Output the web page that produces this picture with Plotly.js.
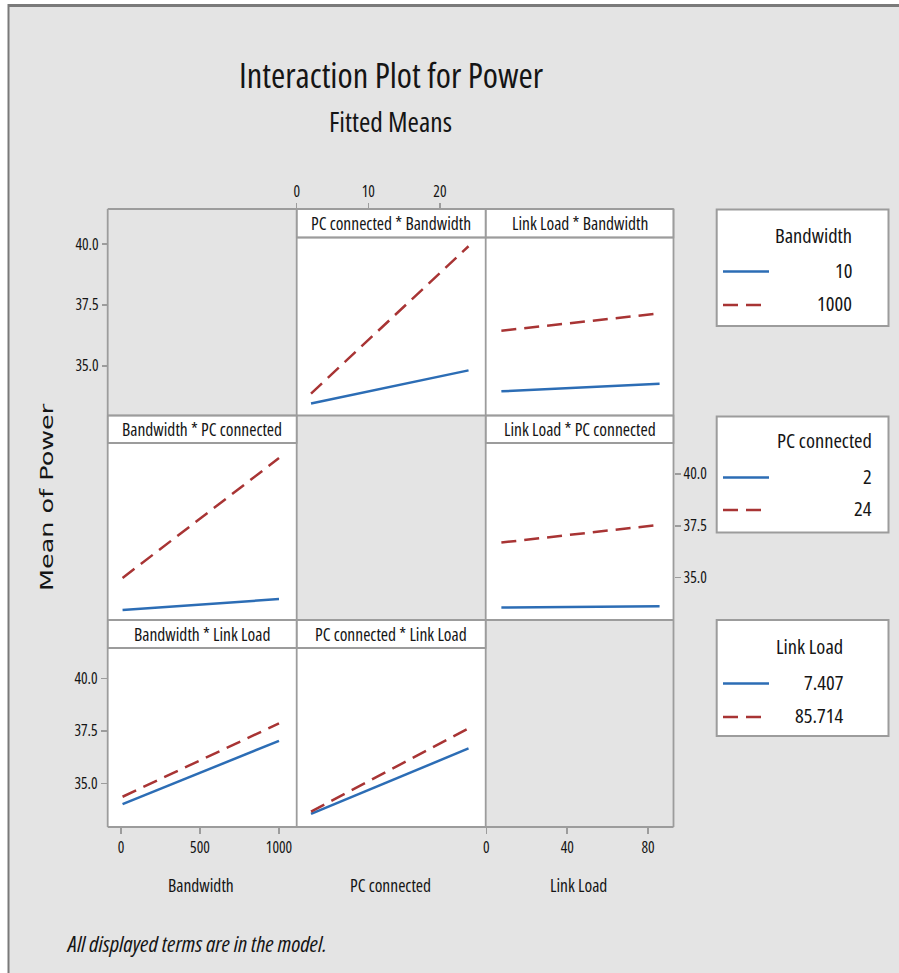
<!DOCTYPE html>
<html>
<head>
<meta charset="utf-8">
<script src="https://cdn.plot.ly/plotly-3.0.1.min.js"></script>
<style>
html,body{margin:0;padding:0;background:#e4e4e4;}
#chart{width:899px;height:973px;}
text{font-stretch:condensed !important;}
</style>
</head>
<body>
<div id="chart"></div>
<script>
// ---------- data ----------
const factorNames = ['Bandwidth', 'PC connected', 'Link Load'];
const bwLevels = [10, 1000];
const pcLevels = [2, 24];
const llLevels = [7.407, 85.714];
const bwLabels = ['10', '1000'];
const pcLabels = ['2', '24'];
const llLabels = ['7.407', '85.714'];

// PC connected * Bandwidth (x = PC connected)
const pcBw_bw10   = [33.46, 34.82];
const pcBw_bw1000 = [33.87, 39.91];
// Link Load * Bandwidth (x = Link Load)
const llBw_bw10   = [33.96, 34.27];
const llBw_bw1000 = [36.45, 37.16];
// Bandwidth * PC connected (x = Bandwidth)
const bwPc_pc2  = [33.43, 33.96];
const bwPc_pc24 = [34.98, 40.77];
// Link Load * PC connected (x = Link Load)
const llPc_pc2  = [33.55, 33.62];
const llPc_pc24 = [36.69, 37.55];
// Bandwidth * Link Load (x = Bandwidth)
const bwLl_ll7  = [34.01, 37.02];
const bwLl_ll85 = [34.36, 37.85];
// PC connected * Link Load (x = PC connected)
const pcLl_ll7  = [33.54, 36.66];
const pcLl_ll85 = [33.65, 37.61];

const yTickVals = [35, 37.5, 40];
const yTickText = ['35.0', '37.5', '40.0'];
const bwTicks = [0, 500, 1000];
const pcTicks = [0, 10, 20];
const llTicks = [0, 40, 80];

// ---------- styling / geometry ----------
const W = 899, H = 973;
const fx = p => p / W;
const fy = p => 1 - p / H;
const FONT = '"Open Sans", "Noto Sans", sans-serif';
const TXT = '#151515';
const WT = 500;
const GRID = '#9c9c9c';
const BLUE = '#2c6db5';
const RED = '#a83434';
const DASH = '15px,8px';

const colX = [107.7, 296.7, 485.7, 673.5];
const rowHead = [[209, 237.5], [415.5, 443], [620, 648]];
const rowEnd = [415.5, 620, 827];

const colDom = c => [fx(colX[c]), fx(colX[c + 1])];
const rowDom = r => [fy(rowEnd[r]), fy(rowHead[r][1])];

const bwRange = [-84, 1112];
const pcRange = [0, 26.4];
const llRange = [-0.35, 92.6];
const yR = [[32.97, 40.27], [32.95, 41.5], [32.92, 41.44]];

function ln(x, y, xa, ya, color, dash, name) {
  return {type: 'scatter', mode: 'lines', x: x, y: y, xaxis: xa, yaxis: ya, name: name,
    showlegend: false, hoverinfo: 'x+y+name',
    line: {color: color, width: 2.5, dash: dash}};
}

const data = [
  ln(pcLevels, pcBw_bw10, 'x', 'y', BLUE, 'solid', 'Bandwidth 10'),
  ln(pcLevels, pcBw_bw1000, 'x', 'y', RED, DASH, 'Bandwidth 1000'),
  ln(llLevels, llBw_bw10, 'x2', 'y2', BLUE, 'solid', 'Bandwidth 10'),
  ln(llLevels, llBw_bw1000, 'x2', 'y2', RED, DASH, 'Bandwidth 1000'),
  ln(bwLevels, bwPc_pc2, 'x3', 'y3', BLUE, 'solid', 'PC connected 2'),
  ln(bwLevels, bwPc_pc24, 'x3', 'y3', RED, DASH, 'PC connected 24'),
  ln(llLevels, llPc_pc2, 'x4', 'y4', BLUE, 'solid', 'PC connected 2'),
  ln(llLevels, llPc_pc24, 'x4', 'y4', RED, DASH, 'PC connected 24'),
  ln(bwLevels, bwLl_ll7, 'x5', 'y5', BLUE, 'solid', 'Link Load 7.407'),
  ln(bwLevels, bwLl_ll85, 'x5', 'y5', RED, DASH, 'Link Load 85.714'),
  ln(pcLevels, pcLl_ll7, 'x6', 'y6', BLUE, 'solid', 'Link Load 7.407'),
  ln(pcLevels, pcLl_ll85, 'x6', 'y6', RED, DASH, 'Link Load 85.714')
];

const tickFont = {family: FONT, size: 15.5, color: TXT, weight: WT};
function hiddenAxis(dom, range, anchor) {
  return {domain: dom, range: range, anchor: anchor, showgrid: false, zeroline: false,
    showline: false, showticklabels: false, ticks: '', fixedrange: true};
}
function shownAxis(dom, range, extra) {
  return Object.assign({domain: dom, range: range, showgrid: false, zeroline: false,
    showline: false, ticks: 'outside', ticklen: 6, tickwidth: 1.5, tickcolor: GRID,
    tickfont: tickFont, fixedrange: true, tickmode: 'array'}, extra);
}

const layout = {
  width: W, height: H,
  margin: {l: 0, r: 0, t: 0, b: 0},
  paper_bgcolor: '#e4e4e4',
  plot_bgcolor: '#ffffff',
  showlegend: false,
  font: {family: FONT, color: TXT},
  // row 1, col 2 : PC connected * Bandwidth
  xaxis: shownAxis(colDom(1), pcRange, {anchor: 'free', position: fy(209), side: 'top',
    tickvals: pcTicks, ticktext: pcTicks.map(String)}),
  yaxis: shownAxis(rowDom(0), yR[0], {anchor: 'free', position: fx(colX[0]), side: 'left',
    tickvals: yTickVals, ticktext: yTickText}),
  // row 1, col 3 : Link Load * Bandwidth
  xaxis2: hiddenAxis(colDom(2), llRange, 'y2'),
  yaxis2: hiddenAxis(rowDom(0), yR[0], 'x2'),
  // row 2, col 1 : Bandwidth * PC connected
  xaxis3: hiddenAxis(colDom(0), bwRange, 'y3'),
  yaxis3: hiddenAxis(rowDom(1), yR[1], 'x3'),
  // row 2, col 3 : Link Load * PC connected
  xaxis4: shownAxis(colDom(2), llRange, {anchor: 'free', position: fy(827), side: 'bottom',
    tickvals: llTicks, ticktext: llTicks.map(String)}),
  yaxis4: shownAxis(rowDom(1), yR[1], {anchor: 'free', position: fx(colX[3]), side: 'right',
    tickvals: yTickVals, ticktext: yTickText}),
  // row 3, col 1 : Bandwidth * Link Load
  xaxis5: shownAxis(colDom(0), bwRange, {anchor: 'y5', side: 'bottom',
    tickvals: bwTicks, ticktext: bwTicks.map(String)}),
  yaxis5: shownAxis(rowDom(2), yR[2], {anchor: 'x5', side: 'left',
    tickvals: yTickVals, ticktext: yTickText}),
  // row 3, col 2 : PC connected * Link Load
  xaxis6: hiddenAxis(colDom(1), pcRange, 'y6'),
  yaxis6: hiddenAxis(rowDom(2), yR[2], 'x6'),
  shapes: [],
  annotations: []
};

const S = layout.shapes, A = layout.annotations;
function pline(x0, y0, x1, y1, color, width, dash) {
  S.push({type: 'line', xref: 'paper', yref: 'paper', x0: fx(x0), y0: fy(y0), x1: fx(x1), y1: fy(y1),
    line: {color: color, width: width, dash: dash || 'solid'}, layer: 'above'});
}
function prect(x0, y0, x1, y1, fill, color, width) {
  S.push({type: 'rect', xref: 'paper', yref: 'paper', x0: fx(x0), y0: fy(y0), x1: fx(x1), y1: fy(y1),
    fillcolor: fill, line: {color: color, width: width}, layer: 'below'});
}
function ptext(x, y, text, size, xanchor, opts) {
  A.push(Object.assign({xref: 'paper', yref: 'paper', x: fx(x), y: fy(y), text: text,
    showarrow: false, xanchor: xanchor || 'center', yanchor: 'middle',
    font: {family: FONT, size: size, color: TXT, weight: WT}}, opts || {}));
}

// outer window edge
prect(0, 0, 8, H, '#ffffff', 'rgba(0,0,0,0)', 0);
prect(0, 0, W, 4, '#ffffff', 'rgba(0,0,0,0)', 0);
pline(8.5, 4, 8.5, H, '#7a7a7a', 2);
pline(8, 5.5, W, 5.5, '#7a7a7a', 3);

// header strips (non-diagonal panels)
const headers = [
  [0, 1, 'PC connected * Bandwidth'],
  [0, 2, 'Link Load * Bandwidth'],
  [1, 0, 'Bandwidth * PC connected'],
  [1, 2, 'Link Load * PC connected'],
  [2, 0, 'Bandwidth * Link Load'],
  [2, 1, 'PC connected * Link Load']
];
headers.forEach(h => {
  const r = h[0], c = h[1];
  prect(colX[c], rowHead[r][0], colX[c + 1], rowHead[r][1], '#ffffff', GRID, 1.5);
  pline(colX[c], rowHead[r][1], colX[c + 1], rowHead[r][1], GRID, 1.8);
  ptext((colX[c] + colX[c + 1]) / 2, (rowHead[r][0] + rowHead[r][1]) / 2, h[2], 17.5);
});

// panel grid lines
pline(colX[0], 209, colX[3], 209, GRID, 1.8);
pline(colX[0], 827, colX[3], 827, GRID, 1.8);
pline(colX[0], 209, colX[0], 827, GRID, 1.8);
pline(colX[3], 209, colX[3], 827, GRID, 1.8);
pline(colX[1], 209, colX[1], 827, GRID, 1.8);
pline(colX[2], 209, colX[2], 827, GRID, 1.8);
pline(colX[0], rowEnd[0], colX[3], rowEnd[0], GRID, 1.8);
pline(colX[0], rowEnd[1], colX[3], rowEnd[1], GRID, 1.8);

// titles
ptext(391, 74, 'Interaction Plot for Power', 34.5);
ptext(390, 121, 'Fitted Means', 27.5);

// column axis titles
ptext(201, 885, factorNames[0], 17.5);
ptext(390, 885, factorNames[1], 17.5);
ptext(578, 885, factorNames[2], 17.5);

// y axis title (regular width, stretched along its direction like the reference)
const yTitleIndex = A.length;
A.push({xref: 'paper', yref: 'paper', x: fx(47.5), y: fy(497), text: 'Mean of Power', textangle: -90,
  showarrow: false, xanchor: 'center', yanchor: 'middle',
  font: {family: '"DejaVu Sans", sans-serif', size: 17, color: TXT}});
const st = document.createElement('style');
st.textContent = '#chart g.annotation[data-index="' + yTitleIndex + '"] text{font-stretch:normal !important;' +
  'transform-box:fill-box;transform-origin:center;transform:scaleX(1.5);}';
document.head.appendChild(st);

// footnote
ptext(64, 943, 'All displayed terms are in the model.', 22.5, 'left',
  {font: {family: FONT, size: 22.5, color: TXT, style: 'italic', weight: 400}});

// legends
const legends = [
  {top: 209.5, bot: 326, right: 854, title: factorNames[0], labels: bwLabels,
   ty: 235, ys: [270, 303]},
  {top: 416.5, bot: 532.5, right: 874, title: factorNames[1], labels: pcLabels,
   ty: 440, ys: [476, 508]},
  {top: 620, bot: 736, right: 845, title: factorNames[2], labels: llLabels,
   ty: 646, ys: [682, 715]}
];
legends.forEach(L => {
  prect(716.7, L.top, 888.5, L.bot, '#ffffff', GRID, 2);
  ptext(L.right, L.ty, L.title, 20.5, 'right');
  ptext(L.right, L.ys[0], L.labels[0], 20.5, 'right');
  ptext(L.right, L.ys[1], L.labels[1], 20.5, 'right');
  pline(723, L.ys[0] + 1.5, 769, L.ys[0] + 1.5, BLUE, 2.5);
  pline(723, L.ys[1] + 2, 769, L.ys[1] + 2, RED, 2.5, DASH);
});

Plotly.newPlot('chart', data, layout, {displayModeBar: false, staticPlot: true});
</script>
</body>
</html>
